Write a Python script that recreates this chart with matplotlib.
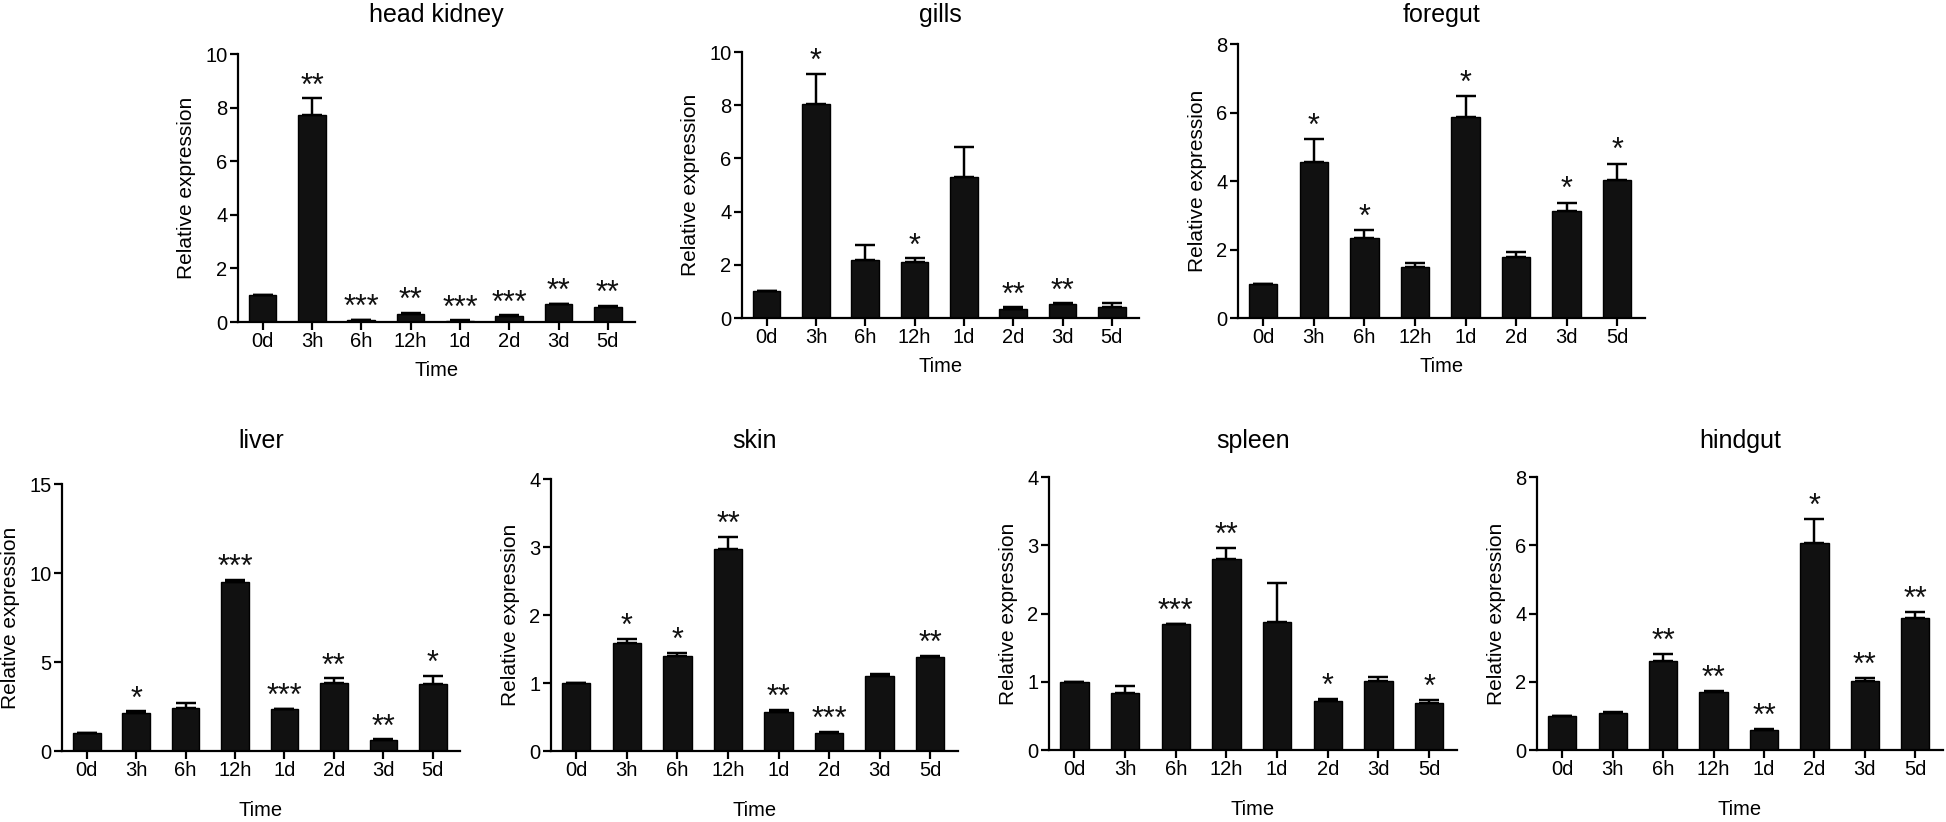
import matplotlib
matplotlib.use("Agg")
import matplotlib.pyplot as plt

plt.rcParams['font.family'] = ['Liberation Sans', 'DejaVu Sans']

# ---------------- data ----------------
times = ["0d", "3h", "6h", "12h", "1d", "2d", "3d", "5d"]

hk_mean = [1.0, 7.72, 0.06, 0.30, 0.05, 0.22, 0.66, 0.56]
hk_err = [0.0, 0.63, 0.02, 0.04, 0.01, 0.03, 0.02, 0.04]
hk_sig = ["", "**", "***", "**", "***", "***", "**", "**"]

gills_mean = [1.0, 8.06, 2.19, 2.09, 5.31, 0.32, 0.52, 0.40]
gills_err = [0.0, 1.13, 0.56, 0.16, 1.13, 0.08, 0.04, 0.16]
gills_sig = ["", "*", "", "*", "", "**", "**", ""]

foregut_mean = [1.0, 4.55, 2.34, 1.49, 5.88, 1.77, 3.12, 4.02]
foregut_err = [0.0, 0.67, 0.23, 0.12, 0.59, 0.16, 0.25, 0.49]
foregut_sig = ["", "*", "*", "", "*", "", "*", "*"]

liver_mean = [1.0, 2.12, 2.40, 9.49, 2.34, 3.81, 0.62, 3.75]
liver_err = [0.0, 0.10, 0.28, 0.13, 0.02, 0.28, 0.03, 0.47]
liver_sig = ["", "*", "", "***", "***", "**", "**", "*"]

skin_mean = [1.0, 1.59, 1.39, 2.97, 0.58, 0.27, 1.10, 1.38]
skin_err = [0.0, 0.06, 0.05, 0.18, 0.02, 0.01, 0.03, 0.02]
skin_sig = ["", "*", "*", "**", "**", "***", "", "**"]

spleen_mean = [1.0, 0.83, 1.84, 2.80, 1.88, 0.72, 1.01, 0.69]
spleen_err = [0.0, 0.11, 0.01, 0.16, 0.57, 0.02, 0.06, 0.04]
spleen_sig = ["", "", "***", "**", "", "*", "", "*"]

hindgut_mean = [1.0, 1.09, 2.61, 1.70, 0.60, 6.08, 2.02, 3.87]
hindgut_err = [0.0, 0.01, 0.19, 0.03, 0.01, 0.68, 0.08, 0.16]
hindgut_sig = ["", "", "**", "**", "**", "*", "**", "**"]

tissues = ["head kidney", "gills", "foregut", "liver", "skin", "spleen", "hindgut"]
means = [hk_mean, gills_mean, foregut_mean, liver_mean, skin_mean, spleen_mean, hindgut_mean]
errs = [hk_err, gills_err, foregut_err, liver_err, skin_err, spleen_err, hindgut_err]
sigs = [hk_sig, gills_sig, foregut_sig, liver_sig, skin_sig, spleen_sig, hindgut_sig]
ymaxes = [10, 10, 8, 15, 4, 4, 8]
ysteps = [2, 2, 2, 5, 1, 1, 2]

# ---------------- layout (pixels) ----------------
W, H = 1946, 822
DPI = 100
# x0, x1, ytop, ybottom
boxes = [
    (238, 635, 54, 322),
    (742, 1139, 52, 318),
    (1238, 1645, 44, 318),
    (62, 460, 484, 751),
    (551, 958, 479, 751),
    (1049, 1457, 477, 750),
    (1537, 1943, 477, 750),
]
title_px = [15, 15, 15, 441, 441, 441, 441]
xlabel_off = [48, 48, 48, 59, 59, 59, 59]

fig = plt.figure(figsize=(W / DPI, H / DPI), dpi=DPI)

lw = 1.6
star_size = 22
for k, name in enumerate(tissues):
    x0, x1, yt, yb = boxes[k]
    ax = fig.add_axes([x0 / W, 1 - yb / H, (x1 - x0) / W, (yb - yt) / H])
    n = len(times)
    xs = list(range(n))
    m = means[k]
    e = errs[k]
    ax.bar(xs, m, width=0.56, color="#111111", edgecolor="black", linewidth=1.0, zorder=2)
    ax.errorbar(xs, m, yerr=[[0] * n, e], fmt="none", ecolor="black",
                elinewidth=lw * 1.1, capsize=7, capthick=lw * 1.1, zorder=3)
    ymax = ymaxes[k]
    ax.set_ylim(0, ymax)
    ax.set_xlim(-0.5, 7.55)
    ax.set_yticks(list(range(0, ymax + 1, ysteps[k])))
    ax.set_xticks(xs)
    ax.set_xticklabels(times)
    for sp in ["top", "right"]:
        ax.spines[sp].set_visible(False)
    for sp in ["left", "bottom"]:
        ax.spines[sp].set_linewidth(lw)
    ax.tick_params(axis="both", direction="out", length=6, width=lw,
                   labelsize=14.5, pad=1.5)
    ax.set_ylabel("Relative expression", fontsize=15, labelpad=7)
    ax.set_xlabel("Time", fontsize=14.5)
    hpx = yb - yt
    ax.xaxis.set_label_coords(0.5, -xlabel_off[k] / hpx)
    ax.xaxis.label.set_va("center")
    ax.set_title(name, fontsize=18, y=1 + (yt - title_px[k]) / hpx, pad=0, va="center")
    for i in range(n):
        s = sigs[k][i]
        if s:
            ytop = m[i] + e[i] + 0.08 * ymax
            ax.annotate(s, xy=(i, ytop), xytext=(0, -0.58 * star_size * DPI / 72),
                        textcoords="offset pixels", ha="center", va="baseline",
                        fontsize=star_size, color="#111111")

fig.savefig("out.png", dpi=DPI)
